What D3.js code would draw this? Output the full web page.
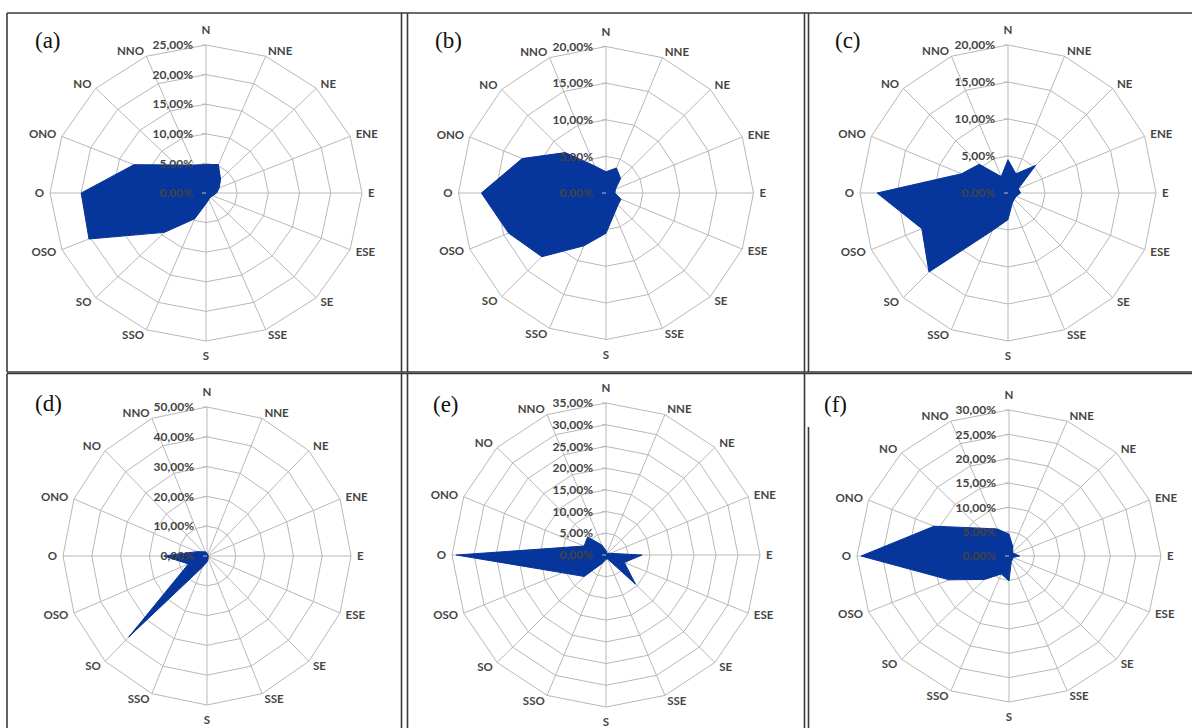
<!DOCTYPE html>
<html>
<head>
<meta charset="utf-8">
<script src="https://cdn.jsdelivr.net/npm/d3@7"></script>
<style>
  html, body { margin: 0; padding: 0; background: #ffffff; }
  svg { display: block; }
</style>
</head>
<body>
<svg id="chart" width="1192" height="728"></svg>
<script>
// ---------- data ----------
const directions = ["N","NNE","NE","ENE","E","ESE","SE","SSE","S","SSO","SO","OSO","O","ONO","NO","NNO"];
const panelNames = ["(a)","(b)","(c)","(d)","(e)","(f)"];

const valuesA = [4.8, 5.2, 3.3, 2.3, 1.7, 1.2, 1.0, 1.2, 1.8, 4.7, 9.4, 20.3, 20.0, 12.5, 6.7, 5.1];
const valuesB = [2.9, 3.7, 2.8, 1.4, 1.2, 2.2, 2.3, 3.0, 5.5, 7.8, 12.3, 14.3, 16.9, 12.3, 7.8, 4.0];
const valuesC = [4.5, 2.8, 5.3, 1.5, 1.7, 1.2, 1.2, 1.5, 3.6, 5.5, 15.1, 12.6, 17.7, 6.8, 5.5, 2.4];
const valuesD = [1.0, 0.5, 0.5, 0.5, 0.5, 0.5, 0.5, 1.0, 2.0, 4.0, 38.4, 7.0, 15.0, 3.8, 2.0, 1.5];
const valuesE = [1.0, 0.5, 0.5, 1.0, 8.2, 4.5, 9.5, 1.0, 1.0, 2.0, 7.0, 10.7, 34.0, 5.4, 5.9, 2.5];
const valuesF = [4.5, 2.0, 1.0, 1.2, 2.1, 0.8, 1.0, 1.2, 5.1, 4.0, 6.8, 12.8, 29.2, 16.0, 8.1, 6.0];

const ticksA = [0, 5, 10, 15, 20, 25];
const ticksB = [0, 5, 10, 15, 20];
const ticksC = [0, 5, 10, 15, 20];
const ticksD = [0, 10, 20, 30, 40, 50];
const ticksE = [0, 5, 10, 15, 20, 25, 30, 35];
const ticksF = [0, 5, 10, 15, 20, 25, 30];

// ---------- layout (positions only) ----------
const layout = [
  {cx: 206, cy: 193, rx: 156, ry: 148},
  {cx: 606, cy: 193, rx: 147.5, ry: 146.5},
  {cx: 1008, cy: 193, rx: 148, ry: 148},
  {cx: 207, cy: 556, rx: 144, ry: 149},
  {cx: 606, cy: 555, rx: 154, ry: 152},
  {cx: 1009, cy: 556, rx: 152, ry: 146}
];
const labelPosXY = [[35, 48], [435, 48], [835, 48], [35, 411], [433, 412], [824, 412]];

const panels = [
  {values: valuesA, ticks: ticksA},
  {values: valuesB, ticks: ticksB},
  {values: valuesC, ticks: ticksC},
  {values: valuesD, ticks: ticksD},
  {values: valuesE, ticks: ticksE},
  {values: valuesF, ticks: ticksF}
];

const svg = d3.select("#chart");
const fmt = v => d3.format(".2f")(v).replace(".", ",") + "%";
const gridColor = "#b8b8b8";
const fillColor = "#06359b";
const textColor = "#444444";
const catFont = "Lato, 'Liberation Sans', sans-serif";

// frames
const frameLines = [
  // top row
  [7, 13, 1192, 13], [7, 13, 7, 372], [7, 372, 1192, 372],
  [401.5, 13, 401.5, 372], [407.5, 13, 407.5, 372],
  [804.5, 13, 804.5, 372], [808.5, 13, 808.5, 372],
  // bottom row
  [7, 373.5, 1192, 373.5], [7, 373.5, 7, 728],
  [401.5, 373.5, 401.5, 728], [407.5, 373.5, 407.5, 728],
  [804.5, 373.5, 804.5, 728], [808.5, 427, 808.5, 728]
];
svg.append("g").selectAll("line").data(frameLines).join("line")
  .attr("x1", d => d[0]).attr("y1", d => d[1]).attr("x2", d => d[2]).attr("y2", d => d[3])
  .attr("stroke", "#3a3a3a").attr("stroke-width", 1.6);

const angle = d3.scaleBand().domain(directions).range([0, 2 * Math.PI]).align(0);

panels.forEach((p, k) => {
  const L = layout[k];
  const maxV = d3.max(p.ticks);
  const rX = d3.scaleLinear().domain([0, maxV]).range([0, L.rx]);
  const rY = d3.scaleLinear().domain([0, maxV]).range([0, L.ry]);
  const px = (dir, v) => L.cx + rX(v) * Math.sin(angle(dir));
  const py = (dir, v) => L.cy - rY(v) * Math.cos(angle(dir));
  const g = svg.append("g");

  // rings
  const lineGen = d3.line().x(d => d[0]).y(d => d[1]).curve(d3.curveLinearClosed);
  g.append("g").selectAll("path").data(p.ticks.filter(t => t > 0)).join("path")
    .attr("d", t => lineGen(directions.map(dir => [px(dir, t), py(dir, t)])))
    .attr("fill", "none").attr("stroke", gridColor).attr("stroke-width", 1);

  // spokes
  g.append("g").selectAll("line").data(directions).join("line")
    .attr("x1", L.cx).attr("y1", L.cy)
    .attr("x2", dir => px(dir, maxV)).attr("y2", dir => py(dir, maxV))
    .attr("stroke", gridColor).attr("stroke-width", 1);

  // data polygon
  g.append("path")
    .attr("d", lineGen(directions.map((dir, i) => [px(dir, p.values[i]), py(dir, p.values[i])])))
    .attr("fill", fillColor).attr("stroke", fillColor).attr("stroke-width", 1);

  // value-axis labels
  g.append("g").selectAll("text").data(p.ticks).join("text")
    .attr("x", L.cx - 13).attr("y", t => L.cy - rY(t))
    .attr("dy", "0.35em").attr("text-anchor", "end")
    .attr("font-family", catFont).attr("font-size", 12).attr("font-weight", 700)
    .attr("fill", textColor)
    .text(fmt);
  // small ticks on axis
  g.append("g").selectAll("line").data(p.ticks).join("line")
    .attr("x1", L.cx - 4).attr("x2", L.cx)
    .attr("y1", t => L.cy - rY(t)).attr("y2", t => L.cy - rY(t))
    .attr("stroke", gridColor).attr("stroke-width", 1);

  // category labels
  const gap = 6;
  g.append("g").selectAll("text").data(directions).join("text")
    .attr("x", dir => {
      const s = Math.sin(angle(dir));
      return px(dir, maxV) + s * gap;
    })
    .attr("y", dir => {
      const c = Math.cos(angle(dir));
      const s = Math.sin(angle(dir));
      const extra = Math.abs(s) < 0.01 ? 9 : 0;
      return py(dir, maxV) - c * (gap + extra);
    })
    .attr("dy", "0.35em")
    .attr("text-anchor", dir => {
      const s = Math.sin(angle(dir));
      return s < -0.01 ? "end" : (s > 0.01 ? "start" : "middle");
    })
    .attr("font-family", catFont).attr("font-size", 11.5).attr("font-weight", 700)
    .attr("fill", textColor)
    .text(dir => dir);

  // panel label
  const [lx, ly] = labelPosXY[k];
  svg.append("text").attr("x", lx).attr("y", ly)
    .attr("font-family", "'Liberation Serif', 'Times New Roman', serif")
    .attr("font-size", 23).attr("fill", "#111")
    .text(panelNames[k]);
});
</script>
</body>
</html>
